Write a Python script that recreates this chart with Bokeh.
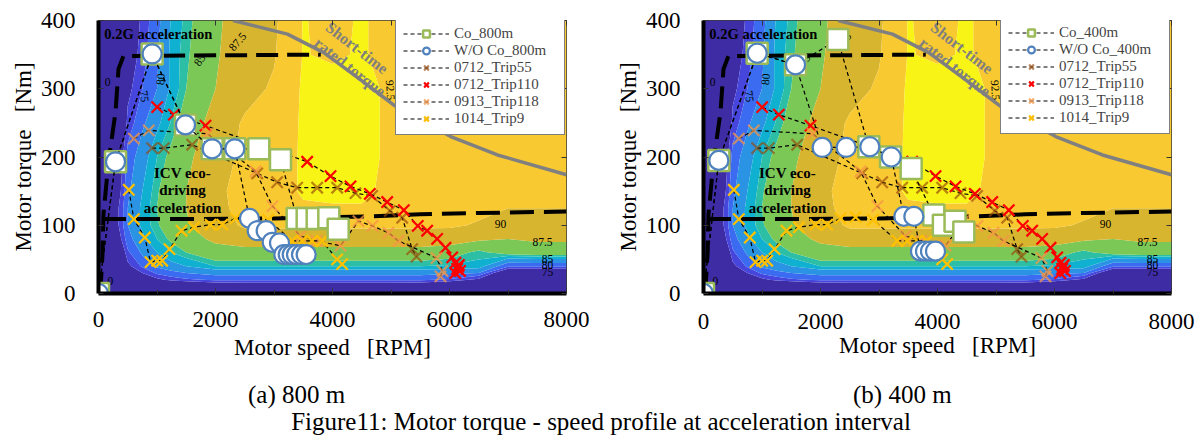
import numpy as np
from bokeh.plotting import figure
from bokeh.models import (LinearAxis, SingleIntervalTicker, Legend, LegendItem,
                          Div, Range1d, CustomJSTickFormatter)
from bokeh.layouts import row, column
from bokeh.embed import file_html
from bokeh.resources import INLINE
from bokeh.core.properties import value

FONT = "Liberation Serif"

# ---------------- efficiency map (%), rows = torque, columns = speed ----------------
MAP_SPEED = [0, 250, 500, 750, 1000, 1250, 1500, 2000, 2500, 3000, 3500, 4000, 4500, 5000, 5500, 6000, 6500, 7000, 7500, 8000]
MAP_TORQUE = [0, 10, 20, 30, 40, 60, 80, 100, 125, 150, 200, 250, 300, 350, 400]
EFF_T0 = [0, 0, 0, 0, 0, 0, 0, 0, 0, 0, 0, 0, 0, 0, 0, 0, 0, 0, 0, 0]
EFF_T10 = [0, 30, 50, 58, 63, 66, 68, 70, 71, 71, 71, 71, 71, 71, 70, 68, 62, 55, 50, 50]
EFF_T20 = [0, 45, 62, 70, 74, 76, 77, 78, 78, 78, 78, 78, 78, 78, 78, 77, 74, 62, 60, 60]
EFF_T30 = [0, 55, 70, 75, 78, 79.2, 80, 81, 81, 81, 81, 81, 81, 81, 81, 80.5, 80, 70, 70, 70]
EFF_T40 = [0, 60, 74, 78, 80.5, 81.7, 82.5, 84, 84, 84, 84, 84, 84, 84, 84, 83.8, 83.5, 78, 78, 78]
EFF_T60 = [0, 65, 77, 80.5, 82.5, 84, 85, 86.5, 86.5, 86.5, 86.5, 86.5, 86.5, 86.5, 86.5, 86, 84.5, 86, 86.5, 86.5]
EFF_T80 = [0, 70, 79, 82, 84, 85.4, 86.5, 88, 89, 89, 89, 89, 89, 89, 89, 88.8, 88, 87.5, 87.8, 87.8]
EFF_T100 = [0, 72, 80, 83, 84.8, 86.2, 87.3, 89, 90.3, 90.3, 90.3, 90.3, 90.3, 90.3, 90.3, 90.3, 89.8, 89, 89, 89]
EFF_T125 = [0, 72, 80, 83, 85, 86.4, 87.5, 89.3, 90.8, 91.5, 92.2, 92.2, 92.2, 91.8, 91.3, 91, 90.5, 90, 90, 90]
EFF_T150 = [0, 70, 79.5, 82.5, 84.8, 86.3, 87.5, 89.5, 90.8, 91.3, 92.8, 93.3, 93.3, 91.5, 91.2, 91, 91, 91, 91, 91]
EFF_T200 = [0, 68, 78.5, 81.5, 84, 85.6, 87, 89, 90.5, 91.3, 92.8, 93.3, 93.3, 92, 91.5, 91.2, 91, 91, 91, 91]
EFF_T250 = [0, 62, 76, 79.5, 82, 84.2, 86, 88.5, 90.3, 91, 92.8, 93.3, 93.3, 92, 91.3, 91, 91, 91, 91, 91]
EFF_T300 = [0, 55, 74, 77.5, 80, 83, 85, 87.5, 89.2, 90.3, 92.8, 93.3, 93.3, 92, 91.3, 91, 91, 91, 91, 91]
EFF_T350 = [0, 50, 72, 76.5, 79.6, 83.1, 84.7, 87.3, 88.6, 89.8, 92.6, 92.2, 92.7, 91.8, 91, 91, 91, 91, 91, 91]
EFF_T400 = [0, 45, 70, 76, 79.2, 82.8, 84.4, 87.2, 88.4, 89.6, 92.6, 92, 92.7, 91.8, 91, 91, 91, 91, 91, 91]
EFF_ROWS = [EFF_T0, EFF_T10, EFF_T20, EFF_T30, EFF_T40, EFF_T60, EFF_T80, EFF_T100,
            EFF_T125, EFF_T150, EFF_T200, EFF_T250, EFF_T300, EFF_T350, EFF_T400]
EFF_LEVELS = [-1, 75, 77.5, 80, 82.5, 84, 85, 87.5, 90, 92.5, 96]
EFF_COLORS = ["#3e2ca4", "#4646dd", "#3a6bf0", "#2a93e4", "#10b1d0", "#2dbfa5",
              "#7bc857", "#d8b52f", "#f9c931", "#f7f416"]

# contour labels
CL_TEXT = ["0", "75", "80", "85", "87.5", "92.5", "90", "87.5", "85", "80", "75", "0"]
CL_SPEED = [154, 786, 1060, 1726, 2376, 4991, 6872, 7590, 7675, 7675, 7675, 205]
CL_TORQUE = [310, 289, 314, 342, 369, 298, 102, 76, 51, 42, 31, 19]
CL_ANGLE = [0, -1.45, 1.5, 0.95, 0.85, -1.5, 0, 0, 0, 0, 0, 0]

# ---------------- boundary curves ----------------
RATED_SPEED = [2300, 3230, 3850, 4420, 5050, 6020, 6820, 8000]
RATED_TORQUE = [400, 380, 353, 317, 276, 230, 203, 174]
ACC02_SPEED = [30, 70, 85, 171, 291, 342, 427, 3800]
ACC02_TORQUE = [0, 60, 116, 193, 266, 329, 348, 350]
ICV_SPEED = [60, 1500, 3000, 4600, 5500, 6500, 8000]
ICV_TORQUE = [109, 109, 110, 113, 116, 118, 120]

# ---------------- simulated profiles ----------------
CO800_SPEED = [0, 291, 917, 1487, 1943, 2330, 2740, 3111, 3396, 3567, 3738, 3937, 4097]
CO800_TORQUE = [0, 193, 351, 247, 212, 212, 212, 196, 110, 110, 110, 111, 94]
WO800_SPEED = [0, 291, 917, 1487, 1943, 2330, 2581, 2713, 2866, 2969, 3094, 3168, 3243, 3311, 3385, 3470, 3550]
WO800_TORQUE = [0, 193, 351, 247, 212, 212, 110, 92, 92, 75, 74, 57, 57, 57, 57, 57, 57]
CO400_SPEED = [0, 262, 918, 1573, 2296, 2826, 3197, 3550, 3937, 4100, 4300, 4450]
CO400_TORQUE = [0, 195, 352, 335, 372, 215, 200, 183, 115, 100, 106, 90]
WO400_SPEED = [0, 262, 918, 1573, 2029, 2439, 2843, 3209, 3425, 3596, 3709, 3795, 3880, 3966]
WO400_TORQUE = [0, 195, 352, 335, 214, 214, 215, 200, 113, 113, 62, 62, 62, 62]

# ---------------- measured trips ----------------
T55_SPEED = [917, 1117, 1601, 2713, 3054, 3396, 3738, 4080, 4393, 4677, 4980, 5191, 5362, 5436]
T55_TORQUE = [213, 213, 218, 176, 163, 155, 155, 155, 147, 143, 121, 111, 65, 54]
T110_SPEED = [1003, 1288, 1829, 3567, 3966, 4308, 4638, 4935, 5219, 5458, 5618, 5789, 5932, 6046, 6103, 6150, 6130, 6180, 6100, 6160]
T110_TORQUE = [273, 262, 246, 193, 172, 157, 146, 134, 122, 99, 92, 80, 67, 53, 45, 40, 36, 33, 30, 42]
T118_SPEED = [604, 860, 1863, 2684, 2974, 3453, 3727, 4137, 4444, 4684, 4957, 5128, 5778, 5880, 5846]
T118_TORQUE = [227, 239, 234, 179, 128, 84, 77, 70, 106, 99, 89, 77, 52, 33, 25]
T9_SPEED = [518, 604, 792, 889, 1003, 1089, 1214, 1419, 1630, 1915, 2114, 2342, 2600, 2900, 3311, 3480, 3650, 3820, 4080, 4165]
T9_TORQUE = [152, 109, 82, 46, 48, 48, 65, 92, 97, 101, 101, 110, 112, 108, 77, 77, 77, 77, 50, 43]

TRIPS = [
    ("0712_Trip55", T55_SPEED, T55_TORQUE, "#984807", 0.65),
    ("0712_Trip110", T110_SPEED, T110_TORQUE, "#ff0000", 1.0),
    ("0913_Trip118", T118_SPEED, T118_TORQUE, "#f79646", 0.75),
    ("1014_Trip9", T9_SPEED, T9_TORQUE, "#ffc000", 1.0),
]

NB = "\u00a0"
X_TITLE = "Motor speed" + NB * 3 + "[RPM]"
Y_TITLE = "Motor torque" + NB * 3 + "[Nm]"
SUB_A = "(a) 800 m"
SUB_B = "(b) 400 m"
CAPTION = "Figure11: Motor torque - speed profile at acceleration interval"

EMPTY = CustomJSTickFormatter(code="return ''")


def make_panel(width, b_left, b_right, b_top, b_bottom, tick_sd, lab_sd, leg_loc,
               co, wo, co_label, wo_label):
    p = figure(width=width, height=372, x_range=Range1d(0, 8000), y_range=Range1d(0, 400),
               output_backend="svg", toolbar_location=None,
               min_border_left=b_left, min_border_right=b_right,
               min_border_top=b_top, min_border_bottom=b_bottom)
    p.grid.visible = False
    p.background_fill_color = "white"
    p.outline_line_color = "#3a3a3a"
    p.outline_line_width = 1

    xa = p.xaxis[0]
    xa.ticker = SingleIntervalTicker(interval=2000, num_minor_ticks=2)
    ya = p.yaxis[0]
    ya.ticker = SingleIntervalTicker(interval=100, num_minor_ticks=0)
    for ax in (xa, ya):
        ax.axis_line_width = 4
        ax.axis_line_color = "black"
        ax.major_tick_in = 5
        ax.major_tick_out = 0
        ax.minor_tick_in = 4
        ax.minor_tick_out = 0
        ax.major_tick_line_color = "#333333"
        ax.minor_tick_line_color = "#333333"
        ax.major_label_text_font = FONT
        ax.major_label_text_font_size = "23px"
        ax.major_label_text_color = "black"
        ax.axis_label_text_font = FONT
        ax.axis_label_text_font_size = "23px"
        ax.axis_label_text_font_style = "normal"
        ax.axis_label_text_color = "black"
    xa.axis_label = X_TITLE
    ya.axis_label = Y_TITLE
    xa.major_label_standoff = tick_sd
    xa.axis_label_standoff = lab_sd
    ya.major_label_standoff = 23
    ya.axis_label_standoff = 2

    top = LinearAxis(ticker=SingleIntervalTicker(interval=1000, num_minor_ticks=0),
                     formatter=EMPTY, major_tick_in=5, major_tick_out=0,
                     major_label_standoff=0, axis_line_color=None,
                     major_tick_line_color="#333333")
    right = LinearAxis(ticker=SingleIntervalTicker(interval=100, num_minor_ticks=0),
                       formatter=EMPTY, major_tick_in=5, major_tick_out=0,
                       major_label_standoff=0, axis_line_color=None,
                       major_tick_line_color="#333333")
    p.add_layout(top, "above")
    p.add_layout(right, "right")

    # efficiency map
    p.contour(MAP_SPEED, MAP_TORQUE, np.array(EFF_ROWS, dtype=float), EFF_LEVELS,
              fill_color=EFF_COLORS)
    p.text(x=CL_SPEED, y=CL_TORQUE, text=CL_TEXT, angle=CL_ANGLE,
           text_font=value(FONT), text_font_size="11.5px", text_color="black",
           text_align="center", text_baseline="middle")

    # boundaries
    p.line(RATED_SPEED, RATED_TORQUE, line_color="#808080", line_width=3.5)
    p.line(ACC02_SPEED, ACC02_TORQUE, line_color="black", line_width=4, line_dash="22 9")
    p.line(ICV_SPEED, ICV_TORQUE, line_color="black", line_width=4, line_dash="24 10")

    items = {}
    for name, sx, sy, color, alpha in TRIPS:
        l = p.line(sx, sy, line_color="black", line_width=1.2, line_dash="4 3")
        m = p.scatter(sx, sy, marker="x", size=16, line_color=color, line_alpha=alpha,
                      line_width=2.2)
        items[name] = [l, m]

    l = p.line(co[0], co[1], line_color="black", line_width=1.2, line_dash="4 3")
    m = p.scatter(co[0], co[1], marker="square", size=21, fill_color="white",
                  line_color="#9bbb59", line_width=2.5)
    items[co_label] = [l, m]
    l = p.line(wo[0], wo[1], line_color="black", line_width=1.2, line_dash="4 3")
    m = p.scatter(wo[0], wo[1], marker="circle", size=19, fill_color="white",
                  line_color="#4f81bd", line_width=2.2)
    items[wo_label] = [l, m]

    # annotations
    p.text(x=[100], y=[380], text=["0.2G acceleration"], text_font=value(FONT),
           text_font_size="14.5px", text_font_style="bold", text_color="black",
           text_align="left", text_baseline="middle")
    p.text(x=[1436, 1436, 1436], y=[177, 152, 126],
           text=["ICV eco-", "driving", "acceleration"], text_font=value(FONT),
           text_font_size="15px", text_font_style="bold", text_color="black",
           text_align="center", text_baseline="middle")
    p.text(x=[4420, 4300], y=[360, 332], text=["Short-time", "rated torque"],
           angle=[-0.66, -0.66], text_font=value(FONT), text_font_size="16px",
           text_font_style="bold", text_color="#7f7f7f",
           text_align="center", text_baseline="middle")

    order = [co_label, wo_label, "0712_Trip55", "0712_Trip110", "0913_Trip118", "1014_Trip9"]
    legend = Legend(items=[LegendItem(label=k, renderers=items[k]) for k in order],
                    location=leg_loc, margin=0, padding=7, spacing=0,
                    glyph_width=46, glyph_height=17, label_height=17, label_width=103,
                    label_standoff=5, label_text_font=FONT, label_text_font_size="15px",
                    border_line_color="black", border_line_width=1.5,
                    background_fill_color="white", background_fill_alpha=1)
    p.add_layout(legend)
    return p


p1 = make_panel(600, 98, 34, 18, 79, 18, 5, (297, 158),
                (CO800_SPEED, CO800_TORQUE), (WO800_SPEED, WO800_TORQUE),
                "Co_800m", "W/O Co_800m")
p2 = make_panel(602, 103, 31, 20, 76, 20, 1, (297, 159),
                (CO400_SPEED, CO400_TORQUE), (WO400_SPEED, WO400_TORQUE),
                "Co_400m", "W/O Co_400m")

html = (
    "<div style=\"position:relative;width:1202px;height:66px;font-family:'Liberation Serif';"
    "font-size:25px;line-height:28px;color:black;\">"
    "<span style=\"position:absolute;left:248px;top:9px;white-space:nowrap;\">" + SUB_A + "</span>"
    "<span style=\"position:absolute;left:853px;top:9px;white-space:nowrap;\">" + SUB_B + "</span>"
    "<div style=\"position:absolute;left:0;top:36px;width:1202px;text-align:center;"
    "white-space:nowrap;\">" + CAPTION + "</div></div>"
)
cap = Div(text=html, width=1202, height=66, margin=(0, 0, 0, 0))

layout = column(row(p1, p2, spacing=0), cap, spacing=0)
open("out.html", "w").write(file_html(layout, INLINE))
